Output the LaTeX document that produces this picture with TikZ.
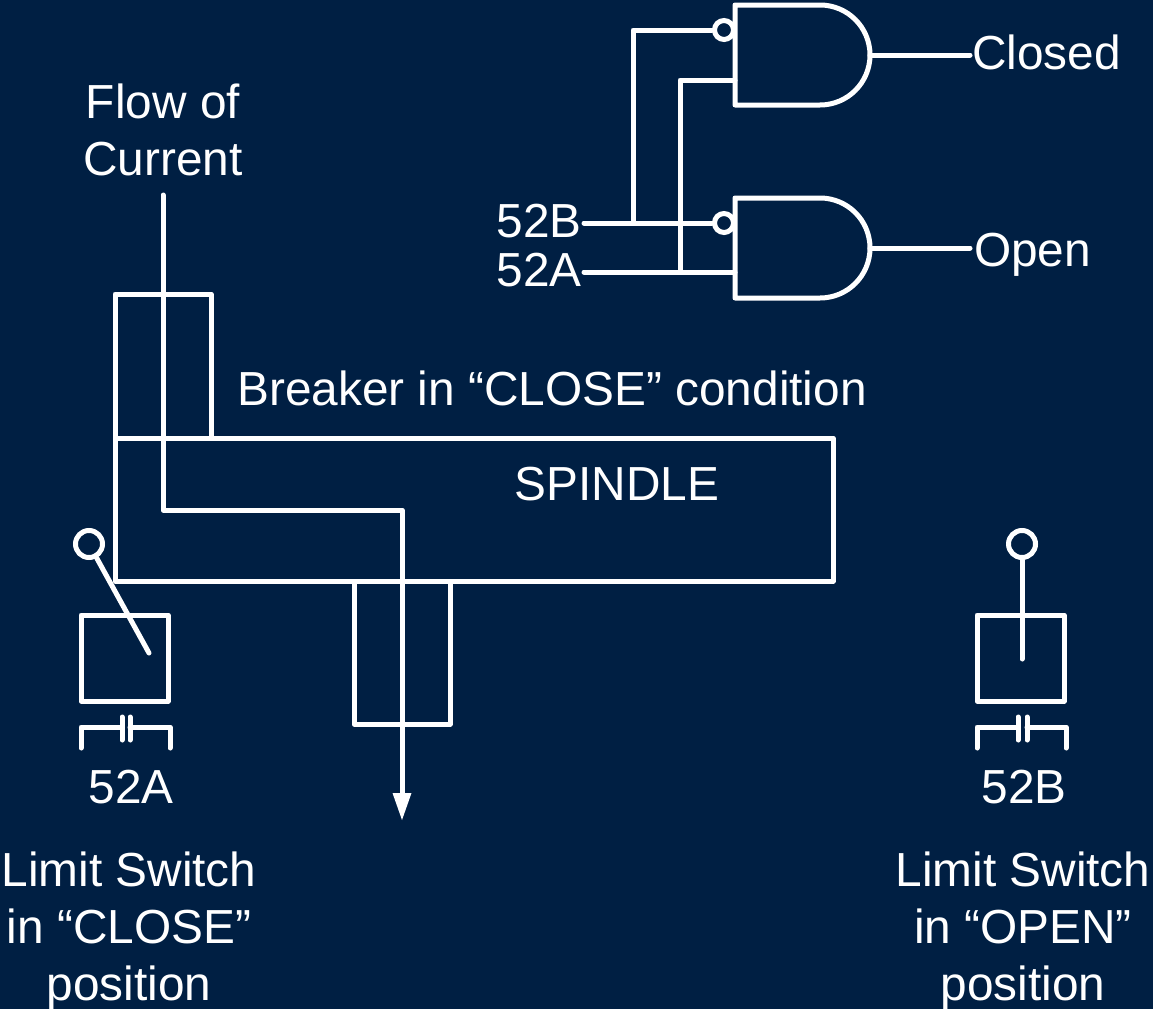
\documentclass[tikz,border=0pt]{standalone}
\usepackage{fontspec}
\setmainfont{Liberation Sans}
\definecolor{bgnavy}{HTML}{001F43}
\tikzset{
  wire/.style={draw=white,line width=5pt,line cap=round,line join=round},
  lbl/.style={text=white,font=\fontsize{47.8}{57}\selectfont,inner sep=0pt,align=center},
  bub/.style={circle,draw=white,line width=5pt,minimum size=19pt,inner sep=0pt},
  bigbub/.style={bub,minimum size=27pt}
}
\begin{document}
\begin{tikzpicture}[x=1pt,y=-1pt]
\fill[bgnavy] (0,0) rectangle (1153,1009);
\useasboundingbox (0,0) rectangle (1153,1009);
% gates
\draw[wire] (735,5) -- (820,5) arc[start angle=-90,end angle=90,radius=50] -- (735,105) -- cycle;
\draw[wire] (735,198) -- (820,198) arc[start angle=-90,end angle=90,radius=50] -- (735,298) -- cycle;
\coordinate (g1out) at (870,55);
\coordinate (g2out) at (870,248);
\coordinate (g1b) at (735,80);
\coordinate (g2b) at (735,272);
\node[bub] (bub1) at (724,30) {};
\node[bub] (bub2) at (724,223) {};
% gate labels
\node[lbl,anchor=west] (closed) at (972,52.5) {Closed};
\node[lbl,anchor=west] (open) at (974,255) {Open};
\node[lbl,anchor=east] (b52) at (582,221) {52B};
\node[lbl,anchor=east] (a52) at (582,270.5) {52A};
\coordinate (bstart) at (584,223);
\coordinate (astart) at (584,272);
\coordinate (bj) at (633,223);
\coordinate (aj) at (680,272);
\coordinate (cle) at (970,55);
\coordinate (ope) at (970,248);
\draw[wire] (g1out) -- (cle);
\draw[wire] (g2out) -- (ope);
\draw[wire] (bstart) -- (bub2.west);
\draw[wire] (astart) -- (g2b);
\draw[wire] (bj) -- (bj|-bub1) -- (bub1.west);
\draw[wire] (aj) -- (aj|-g1b) -- (g1b);
% spindle
\draw[wire] (115,438) rectangle (833,581);
\draw[wire] (115,294) rectangle (211,438);
\draw[wire] (354,581) rectangle (450,724);
\node[lbl] (flow) at (163,130) {Flow of\\Current};
\coordinate (fa) at (163,195);
\coordinate (fb) at (163,510);
\coordinate (fc) at (402,510);
\coordinate (fd) at (402,820);
\draw[wire] (fa) -- (fb) -- (fc) -- (402,796);
\fill[white] (392.5,793) -- (411.5,793) -- (fd) -- cycle;
\node[lbl,anchor=west] (brk) at (237,388) {Breaker in “CLOSE” condition};
\node[lbl] (spin) at (617,484) {SPINDLE};
% limit switch left
\draw[wire] (81,615) rectangle (168,701);
\node[bigbub] (ka) at (89,544) {};
\coordinate (kae) at (149,653);
\draw[wire] (ka) -- (kae);
\draw[wire] (81,748) -- (81,727) -- (122,727);
\draw[wire] (170,748) -- (170,727) -- (130,727);
\draw[wire] (122,717) -- (122,740);
\draw[wire] (130,717) -- (130,740);
\node[lbl] (la) at (131,787) {52A};
\node[lbl] (lsa) at (129,931.5) {Limit Switch\\in “CLOSE”\\position};
% limit switch right
\draw[wire] (977,615) rectangle (1064,701);
\node[bigbub] (kb) at (1022,544) {};
\coordinate (kbe) at (1022,659);
\draw[wire] (kb) -- (kbe);
\draw[wire] (977,748) -- (977,727) -- (1018,727);
\draw[wire] (1066,748) -- (1066,727) -- (1027,727);
\draw[wire] (1018,717) -- (1018,740);
\draw[wire] (1027,717) -- (1027,740);
\node[lbl] (lb) at (1024,787) {52B};
\node[lbl] (lsb) at (1023,931.5) {Limit Switch\\in “OPEN”\\position};
\end{tikzpicture}
\end{document}
